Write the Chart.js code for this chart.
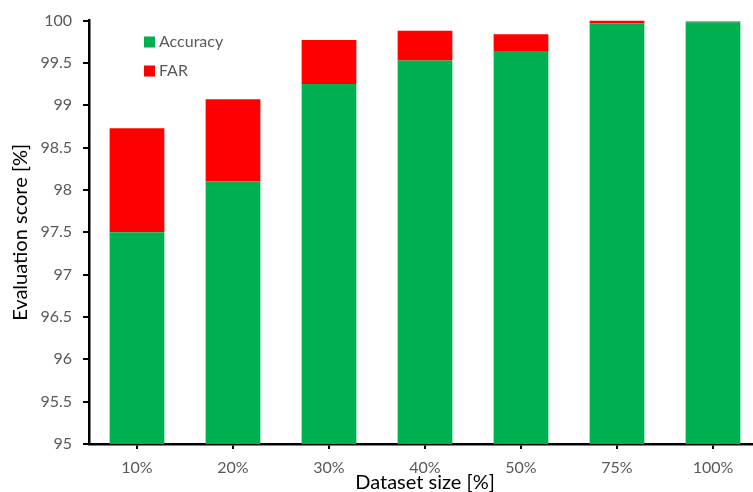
<!DOCTYPE html>
<html>
<head>
<meta charset="utf-8">
<script src="https://cdn.jsdelivr.net/npm/chart.js@4.4.1/dist/chart.umd.min.js"></script>
<style>
  html, body { margin: 0; padding: 0; background: #fff; overflow: hidden; }
  #wrap { width: 761px; height: 492px; }
</style>
</head>
<body>
<div id="wrap"><canvas id="barChart"></canvas></div>
<script>
// Dataset sizes and scores (%)
const sizes = ['10%', '20%', '30%', '40%', '50%', '75%', '100%'];
const accuracy = [97.5, 98.1, 99.25, 99.53, 99.64, 99.97, 99.98];
const far = [1.23, 0.97, 0.52, 0.35, 0.2, 0.03, 0.01];

const FONT = 'Lato, "Open Sans", sans-serif';
const GRAY = '#595959';

// legend drawn inside the plot area, top left
const innerLegend = {
  id: 'innerLegend',
  afterDatasetsDraw(chart) {
    const ctx = chart.ctx;
    ctx.save();
    ctx.font = '16px ' + FONT;
    ctx.textBaseline = 'middle';
    chart.data.datasets.forEach((ds, i) => {
      const y = 42 + i * 29;
      ctx.fillStyle = ds.backgroundColor;
      ctx.fillRect(144, y - 5.5, 11, 11);
      ctx.fillStyle = GRAY;
      ctx.fillText(ds.label, 159, y);
    });
    ctx.restore();
  }
};

const ctx = document.getElementById('barChart').getContext('2d');
const chart = new Chart(ctx, {
  type: 'bar',
  data: {
    labels: sizes,
    datasets: [
      { label: 'Accuracy', data: accuracy, backgroundColor: '#00B050' },
      { label: 'FAR', data: far, backgroundColor: '#FF0000' }
    ]
  },
  options: {
    responsive: true,
    maintainAspectRatio: false,
    animation: false,
    layout: { padding: { top: 19, right: 0, left: 0, bottom: 0 } },
    datasets: { bar: { barPercentage: 0.57, categoryPercentage: 1.0 } },
    plugins: {
      legend: { display: false },
      tooltip: { enabled: false }
    },
    scales: {
      x: {
        stacked: true,
        grid: { offset: false, drawOnChartArea: false, drawTicks: true, tickLength: 5, color: '#000', lineWidth: 2 },
        border: { color: '#000', width: 2.5 },
        ticks: { color: GRAY, font: { family: FONT, size: 16 }, padding: 9 },
        title: {
          display: true, text: 'Dataset size [%]', color: '#000',
          font: { family: FONT, size: 20, lineHeight: 1 }, padding: { top: 0, bottom: -1 }
        },
        afterFit(scale) { scale.height = 48; }
      },
      y: {
        stacked: true,
        min: 95,
        max: 100,
        ticks: {
          stepSize: 0.5, color: GRAY, font: { family: FONT, size: 16 }, padding: 11,
          callback: v => String(Number(v.toFixed(1)))
        },
        grid: { drawOnChartArea: false, drawTicks: true, tickLength: 6, color: '#000', lineWidth: 2 },
        border: { color: '#000', width: 2.5 },
        title: {
          display: true, text: 'Evaluation score [%]', color: '#000',
          font: { family: FONT, size: 20 }, padding: { top: 9, bottom: 0 }
        },
        afterFit(scale) { scale.width = 89; }
      }
    }
  },
  plugins: [innerLegend]
});
</script>
</body>
</html>
